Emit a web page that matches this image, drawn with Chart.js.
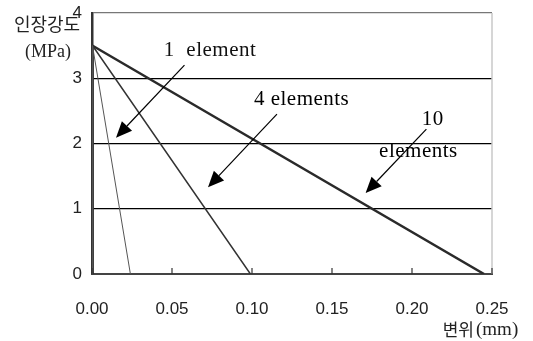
<!DOCTYPE html>
<html>
<head>
<meta charset="utf-8">
<script src="https://cdn.jsdelivr.net/npm/chart.js@4.4.1/dist/chart.umd.min.js"></script>
<style>
  html, body { margin: 0; padding: 0; background: #fff; }
  #wrap { width: 533px; height: 341px; }
</style>
</head>
<body>
<div id="wrap"><canvas id="graphe" width="533" height="341"></canvas></div>
<script>
// Courbes contrainte-déplacement (traction) selon le nombre d'éléments
const xTicks = [0, 0.05, 0.10, 0.15, 0.20, 0.25];
const yTicks = [0, 1, 2, 3, 4];
const seriesNames = ['1 element', '4 elements', '10 elements'];
const peakDisp = [0.0003, 0.0003, 0.0003];
const peakStress = [3.5, 3.5, 3.5];
const endDisp = [0.024, 0.099, 0.245];
const lineColors = ['#555', '#333', '#2a2a2a'];
const lineWidths = [1, 1.5, 2.5];

// étiquettes et flèches (coordonnées en unités des axes)
const noteLines = [['1  element'], ['4 elements'], ['10', 'elements']];
const noteX = [[0.0738], [0.131], [0.213, 0.204]];
const noteY = [[3.43], [2.68], [2.37, 1.87]];
const arrowFrom = [[0.0578, 3.20], [0.1156, 2.45], [0.209, 2.22]];
const arrowTo = [[0.015, 2.09], [0.0725, 1.33], [0.171, 1.24]];

const datasets = seriesNames.map((nom, i) => ({
  label: nom,
  data: [
    { x: 0, y: 0 },
    { x: peakDisp[i], y: peakStress[i] },
    { x: endDisp[i], y: 0 }
  ],
  showLine: true,
  borderColor: lineColors[i],
  borderWidth: lineWidths[i],
  pointRadius: 0,
  tension: 0
}));

function fleche(ctx, x1, y1, x2, y2) {
  const ang = Math.atan2(y2 - y1, x2 - x1);
  const L = 16, W = 7;
  const bx = x2 - L * Math.cos(ang), by = y2 - L * Math.sin(ang);
  ctx.beginPath();
  ctx.moveTo(x1, y1);
  ctx.lineTo(bx, by);
  ctx.strokeStyle = '#000';
  ctx.lineWidth = 1.2;
  ctx.stroke();
  ctx.beginPath();
  ctx.moveTo(x2, y2);
  ctx.lineTo(bx + W * Math.sin(ang), by - W * Math.cos(ang));
  ctx.lineTo(bx - W * Math.sin(ang), by + W * Math.cos(ang));
  ctx.closePath();
  ctx.fillStyle = '#000';
  ctx.fill();
}

const annotations = {
  id: 'annotations',
  afterDraw(chart) {
    const ctx = chart.ctx;
    const sx = chart.scales.x, sy = chart.scales.y;
    const a = chart.chartArea;
    ctx.save();

    // bord droit du cadre
    ctx.strokeStyle = '#c8c8c8';
    ctx.lineWidth = 1.5;
    ctx.beginPath();
    ctx.moveTo(a.right, a.top);
    ctx.lineTo(a.right, a.bottom);
    ctx.stroke();

    // petites graduations vers l'intérieur
    ctx.strokeStyle = '#333';
    ctx.lineWidth = 1.2;
    xTicks.forEach(v => {
      const px = sx.getPixelForValue(v);
      ctx.beginPath();
      ctx.moveTo(px, a.bottom);
      ctx.lineTo(px, a.bottom - 6);
      ctx.stroke();
    });

    // textes et flèches
    ctx.fillStyle = '#111';
    ctx.textAlign = 'center';
    ctx.textBaseline = 'middle';
    ctx.font = '21px "Liberation Serif"';
    ctx.letterSpacing = '0.5px';
    noteLines.forEach((lignes, i) => {
      lignes.forEach((t, j) => {
        ctx.fillText(t, sx.getPixelForValue(noteX[i][j]), sy.getPixelForValue(noteY[i][j]));
      });
      fleche(ctx,
        sx.getPixelForValue(arrowFrom[i][0]), sy.getPixelForValue(arrowFrom[i][1]),
        sx.getPixelForValue(arrowTo[i][0]), sy.getPixelForValue(arrowTo[i][1]));
    });
    ctx.letterSpacing = '0px';

    // titres des axes
    ctx.fillStyle = '#222';
    ctx.font = '18px "Noto Sans CJK KR"';
    ctx.fillText('인장강도', 47, 24);
    ctx.font = '18px "Liberation Serif"';
    ctx.fillText('(MPa)', 48, 52);
    ctx.textAlign = 'right';
    ctx.font = '17px "Noto Sans CJK KR"';
    ctx.fillText('변위', 474, 330);
    ctx.textAlign = 'left';
    ctx.font = '19px "Liberation Serif"';
    ctx.fillText('(mm)', 476, 330);
    ctx.restore();
  }
};

new Chart(document.getElementById('graphe').getContext('2d'), {
  type: 'scatter',
  data: { datasets: datasets },
  options: {
    responsive: false,
    animation: false,
    layout: { padding: { top: 13, right: 41, left: 0, bottom: 0 } },
    plugins: { legend: { display: false }, tooltip: { enabled: false } },
    scales: {
      x: {
        type: 'linear',
        min: 0,
        max: 0.25,
        afterBuildTicks: s => { s.ticks = xTicks.map(v => ({ value: v })); },
        afterFit: s => { s.height = 67; s.paddingLeft = 0; s.paddingRight = 0; },
        grid: { display: false, drawTicks: false },
        border: { display: true, color: '#444', width: 2 },
        ticks: {
          padding: 25,
          color: '#222',
          font: { family: 'Liberation Sans', size: 17 },
          maxRotation: 0,
          callback: v => Number(v).toFixed(2)
        }
      },
      y: {
        min: 0,
        max: 4,
        afterBuildTicks: s => { s.ticks = yTicks.map(v => ({ value: v })); },
        afterFit: s => { s.width = 92; s.paddingTop = 0; s.paddingBottom = 0; },
        grid: {
          drawTicks: false,
          lineWidth: 1.2,
          color: c => c.tick.value === 0 ? 'rgba(0,0,0,0)' : (c.tick.value === 4 ? '#777' : '#000')
        },
        border: { display: true, color: '#333', width: 2.5 },
        ticks: {
          padding: 10,
          color: '#222',
          font: { family: 'Liberation Sans', size: 17 }
        }
      }
    }
  },
  plugins: [annotations]
});
</script>
</body>
</html>
